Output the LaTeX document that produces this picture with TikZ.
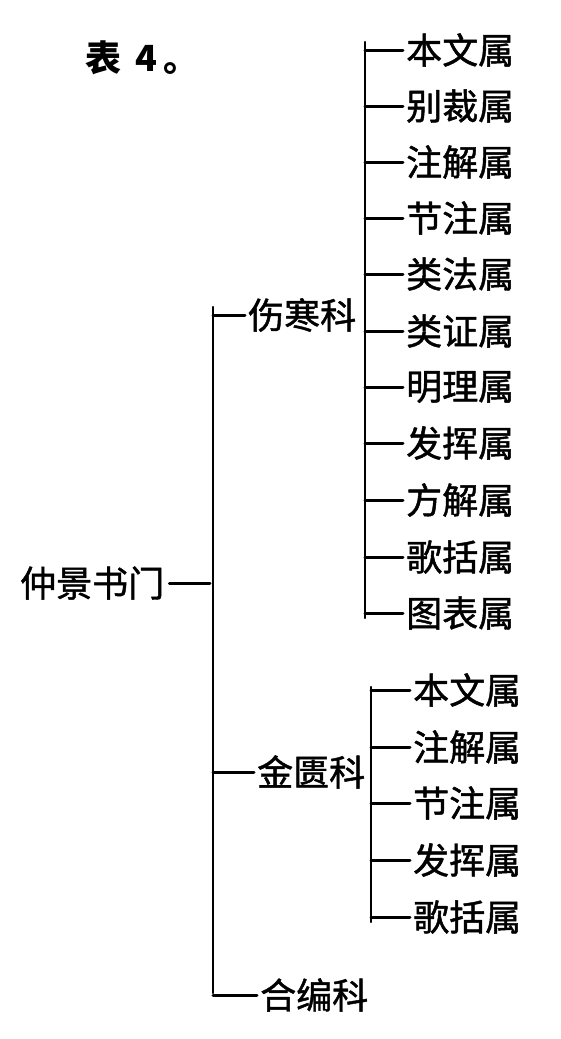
\documentclass[tikz,border=0pt]{standalone}
\usepackage{fontspec}
\newfontfamily\cjk[FakeBold=1.3]{Noto Sans CJK SC}
\newfontfamily\cjkhead{Noto Sans CJK SC}
\begin{document}
\begin{tikzpicture}[x=1pt, y=-1pt, font=\cjk\fontsize{36}{36}\selectfont, line join=round, line cap=round,
		lbl/.style={anchor=west, inner sep=0pt},
		brace/.style={line width=2.3pt},
		tick/.style={line width=3pt, shorten >=3pt}]
	\useasboundingbox (0,0) rectangle (560,1039);
	% vertical rules
	\coordinate (M1) at (213,307);
	\coordinate (M2) at (213,993);
	\coordinate (S1) at (365,42);
	\coordinate (S2) at (365,618);
	\coordinate (T1) at (371,687);
	\coordinate (T2) at (371,922);
	\draw[brace] (M1)--(M2);
	\draw[brace] (S1)--(S2);
	\draw[brace] (T1)--(T2);
	% title and root
	\node[lbl] (title) at (85,58) {\cjkhead\bfseries 表\hspace{14pt}4\hspace{6pt}。};
	\node[lbl] (root) at (20,583) {仲景书门};
	\draw[tick, shorten <=5pt] (root.east)--(root.east -| M1);
	% second level
	\node[lbl] (shanghan) at (248,315) {伤寒科};
	\node[lbl] (jingui) at (257,772) {金匮科};
	\node[lbl] (hebian) at (260,995) {合编科};
	\draw[tick] (shanghan.west -| M1)--(shanghan.west);
	\draw[tick] (jingui.west -| M1)--(jingui.west);
	\draw[tick] (hebian.west -| M1)--(hebian.west);
	% shanghan leaves
	\node[lbl] (sa) at (406,50) {本文属};
	\node[lbl] (sb) at (406,106) {别裁属};
	\node[lbl] (sc) at (406,162) {注解属};
	\node[lbl] (sd) at (406,218) {节注属};
	\node[lbl] (se) at (406,274) {类法属};
	\node[lbl] (sf) at (406,331) {类证属};
	\node[lbl] (sg) at (406,387) {明理属};
	\node[lbl] (sh) at (406,443) {发挥属};
	\node[lbl] (si) at (406,500) {方解属};
	\node[lbl] (sj) at (406,557) {歌括属};
	\node[lbl] (sk) at (406,613) {图表属};
	\draw[tick] (sa.west -| S1)--(sa.west);
	\draw[tick] (sb.west -| S1)--(sb.west);
	\draw[tick] (sc.west -| S1)--(sc.west);
	\draw[tick] (sd.west -| S1)--(sd.west);
	\draw[tick] (se.west -| S1)--(se.west);
	\draw[tick] (sf.west -| S1)--(sf.west);
	\draw[tick] (sg.west -| S1)--(sg.west);
	\draw[tick] (sh.west -| S1)--(sh.west);
	\draw[tick] (si.west -| S1)--(si.west);
	\draw[tick] (sj.west -| S1)--(sj.west);
	\draw[tick] (sk.west -| S1)--(sk.west);
	% jingui leaves
	\node[lbl] (ja) at (413,690) {本文属};
	\node[lbl] (jb) at (413,747) {注解属};
	\node[lbl] (jc) at (413,803) {节注属};
	\node[lbl] (jd) at (413,860) {发挥属};
	\node[lbl] (je) at (413,917) {歌括属};
	\draw[tick] (ja.west -| T1)--(ja.west);
	\draw[tick] (jb.west -| T1)--(jb.west);
	\draw[tick] (jc.west -| T1)--(jc.west);
	\draw[tick] (jd.west -| T1)--(jd.west);
	\draw[tick] (je.west -| T1)--(je.west);
\end{tikzpicture}
\end{document}
